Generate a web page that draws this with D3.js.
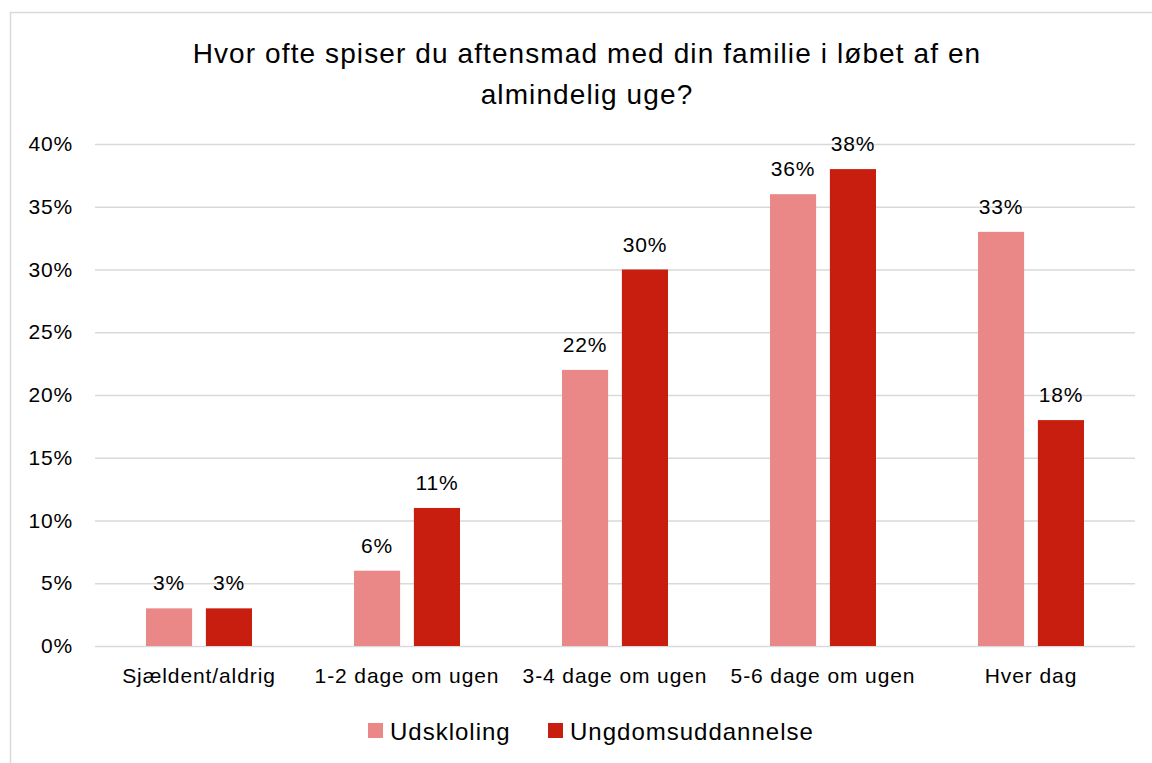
<!DOCTYPE html>
<html>
<head>
<meta charset="utf-8">
<script src="https://cdn.jsdelivr.net/npm/d3@7"></script>
<style>
  body { margin: 0; background: #fff; }
  svg { display: block; font-family: "Liberation Sans", Arial, sans-serif; }
</style>
</head>
<body>
<svg width="1152" height="763"></svg>
<script>
// data
const categories = ["Sjældent/aldrig", "1-2 dage om ugen", "3-4 dage om ugen", "5-6 dage om ugen", "Hver dag"];
const seriesNames = ["Udskloling", "Ungdomsuddannelse"];
const udskoling = [3, 6, 22, 36, 33];
const ungdom = [3, 11, 30, 38, 18];
const yTicks = [0, 5, 10, 15, 20, 25, 30, 35, 40];
const titleLines = ["Hvor ofte spiser du aftensmad med din familie i løbet af en", "almindelig uge?"];
const colors = ["#E98886", "#C81E10"];

const svg = d3.select("svg");

// ramme om diagrammet
svg.append("rect")
  .attr("x", 10.5).attr("y", 12.5)
  .attr("width", 1200).attr("height", 800)
  .attr("fill", "white")
  .attr("stroke", "#d9d9d9")
  .attr("stroke-width", 1.5);

// titel
svg.append("text")
  .attr("x", 587).attr("y", 63)
  .attr("text-anchor", "middle")
  .attr("font-size", 28)
  .attr("letter-spacing", 1.1)
  .attr("fill", "#000")
  .selectAll("tspan")
  .data(titleLines)
  .join("tspan")
  .attr("x", 587)
  .attr("dy", (d, i) => i === 0 ? 0 : 41)
  .text(d => d);

const x0 = d3.scaleBand().domain(categories).range([95, 1135]);
const x1 = d3.scaleBand().domain(seriesNames).range([0, 106]).paddingInner(0.23);
const y = d3.scaleLinear().domain([0, 40]).range([646, 144]);

// gitterlinjer
svg.append("g")
  .selectAll("line")
  .data(yTicks)
  .join("line")
  .attr("x1", 95).attr("x2", 1135)
  .attr("y1", d => y(d) + 0.5).attr("y2", d => y(d) + 0.5)
  .attr("stroke", "#d9d9d9")
  .attr("stroke-width", 1.5);

// y-akse labels
const yAxis = svg.append("g")
  .attr("transform", "translate(73,0)")
  .call(d3.axisLeft(y).tickValues(yTicks).tickFormat(d => d + "%").tickSize(0).tickPadding(0));
yAxis.select(".domain").remove();
yAxis.selectAll("text").attr("font-size", 21).attr("letter-spacing", 0.8).attr("fill", "#000").attr("font-family", null);

// søjler
const groups = svg.append("g")
  .selectAll("g")
  .data(categories)
  .join("g")
  .attr("transform", d => `translate(${x0(d) + x0.bandwidth() / 2 - 53},0)`);

const rows = (d, i) => [
  { s: seriesNames[0], v: udskoling[i], c: colors[0] },
  { s: seriesNames[1], v: ungdom[i], c: colors[1] }
];

groups.selectAll("rect")
  .data(rows)
  .join("rect")
  .attr("x", d => x1(d.s))
  .attr("y", d => y(d.v))
  .attr("width", x1.bandwidth())
  .attr("height", d => y(0) - y(d.v))
  .attr("fill", d => d.c);

// data labels
groups.selectAll("text")
  .data(rows)
  .join("text")
  .attr("x", d => x1(d.s) + x1.bandwidth() / 2)
  .attr("y", d => y(d.v) - 18)
  .attr("text-anchor", "middle")
  .attr("font-size", 21)
  .attr("letter-spacing", 0.8)
  .attr("fill", "#000")
  .text(d => d.v + "%");

// x-akse labels
const xAxis = svg.append("g")
  .attr("transform", "translate(0,646)")
  .call(d3.axisBottom(x0).tickSize(0).tickPadding(22));
xAxis.select(".domain").remove();
xAxis.selectAll("text").attr("font-size", 21).attr("letter-spacing", 0.9).attr("fill", "#000").attr("font-family", null);

// legend
const legend = svg.append("g").attr("transform", "translate(368,731)");
const legendX = [0, 180];
const li = legend.selectAll("g")
  .data(seriesNames)
  .join("g")
  .attr("transform", (d, i) => `translate(${legendX[i]},0)`);
li.append("rect")
  .attr("x", 0).attr("y", -8)
  .attr("width", 15).attr("height", 15)
  .attr("fill", (d, i) => colors[i]);
li.append("text")
  .attr("x", 22).attr("y", 9)
  .attr("font-size", 24)
  .attr("letter-spacing", 1)
  .attr("fill", "#000")
  .text(d => d);
</script>
</body>
</html>
